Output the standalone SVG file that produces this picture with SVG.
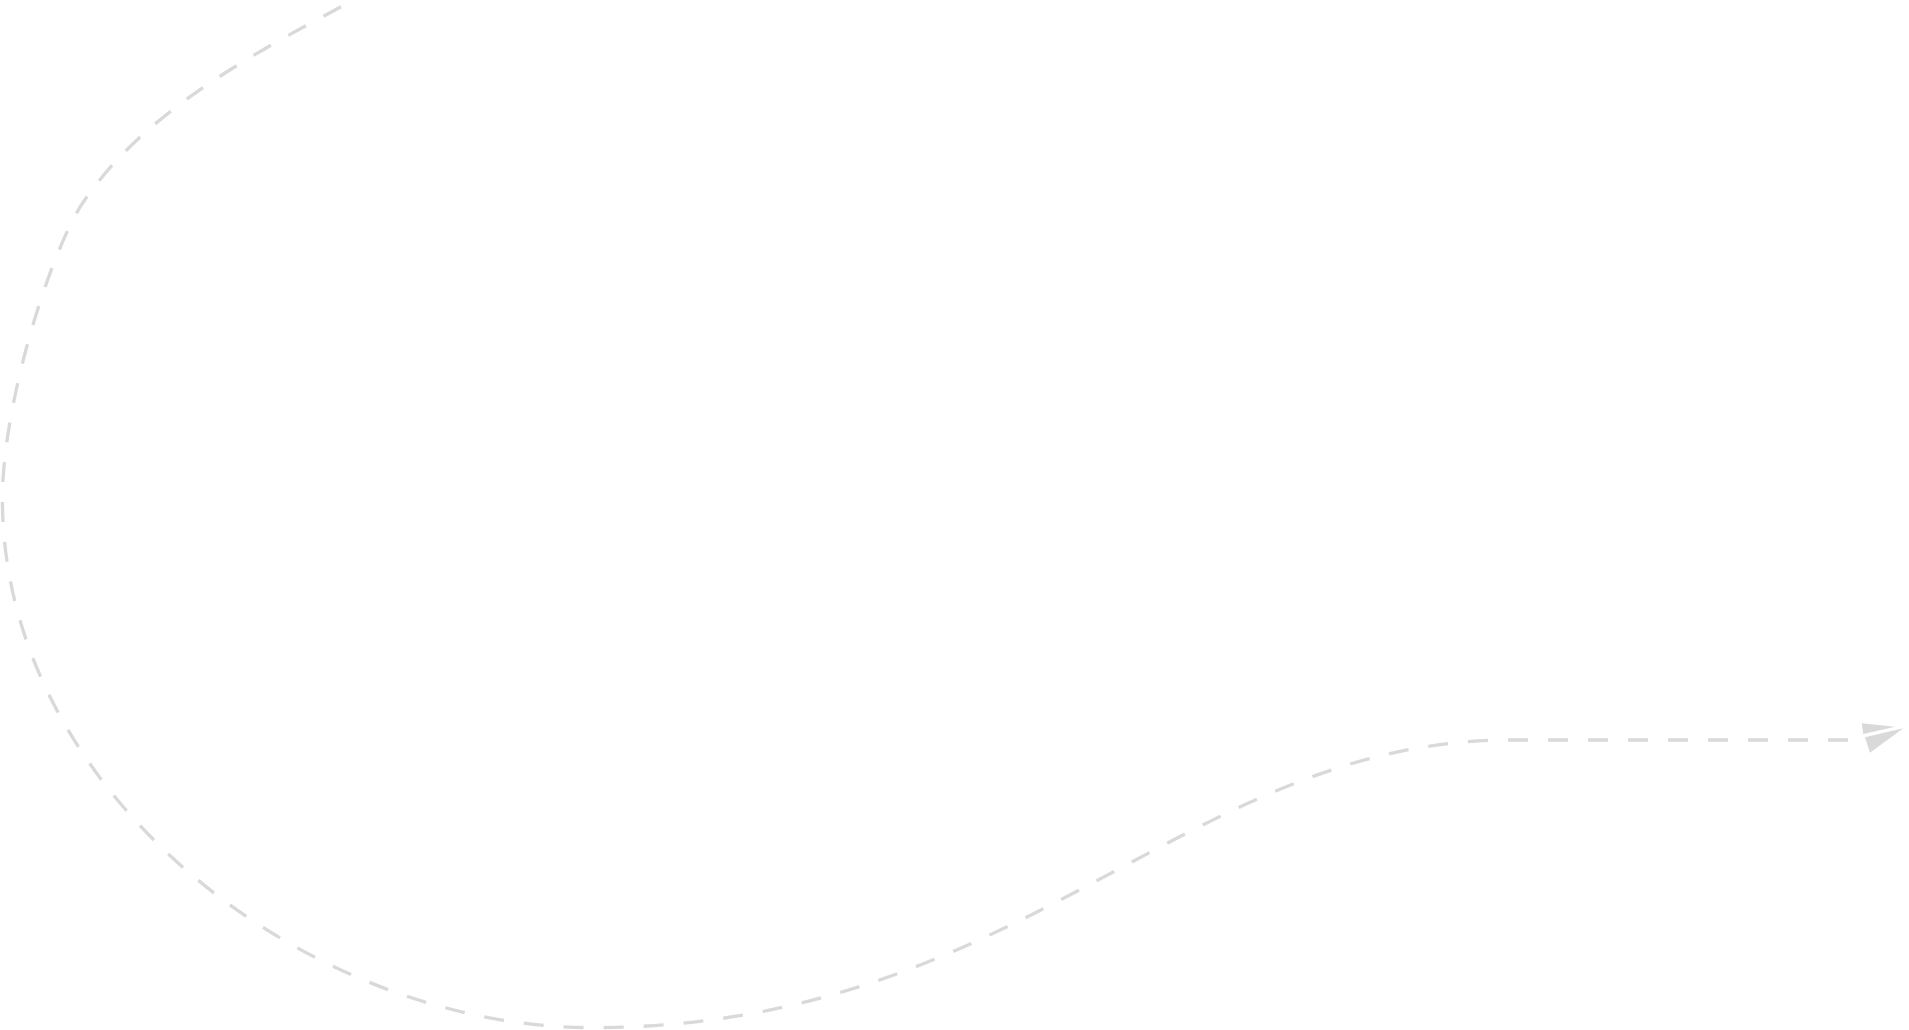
<svg xmlns="http://www.w3.org/2000/svg" width="1909" height="1030" viewBox="0 0 1909 1030">
<style>
.conn{fill:none;stroke:#d9d9d9;stroke-width:3.3;stroke-dasharray:20 20;}
.head{fill:#d9d9d9;stroke:none;}
</style>
<rect width="1909" height="1030" fill="#ffffff"/>
<g id="connectors">
<path class="conn" d="M 1848 740 L 1510 740 C 1187 740 1021.5 1027.6 593 1027.6 C 304 1027.6 2.4 791 2.4 499 C 2.4 402 52 247 84 201 C 145 112 250 55 352 1"/>
<g id="arrowhead">
<polygon class="head" points="1861.7,723.3 1895,726.7 1863.3,734"/>
<polygon class="head" points="1903.3,728.3 1865,737.3 1870,752.7"/>
</g>
</g>
</svg>
